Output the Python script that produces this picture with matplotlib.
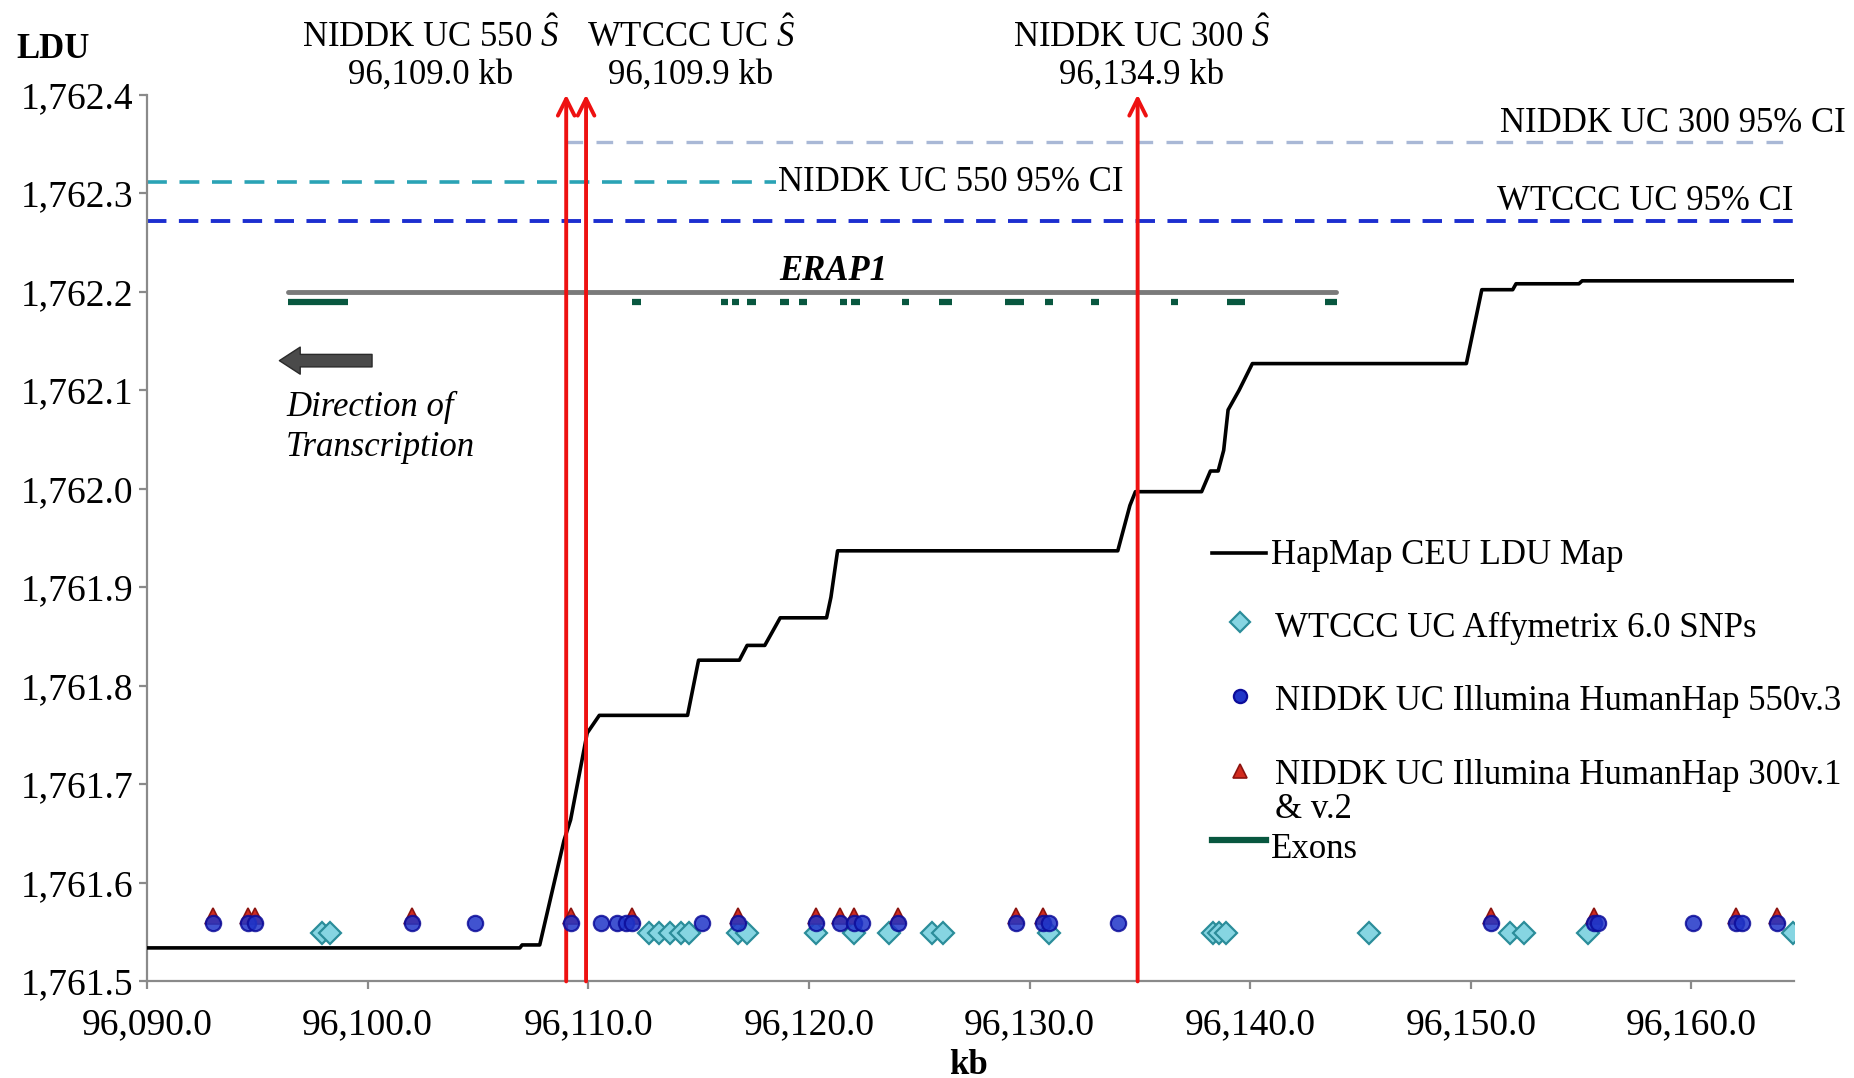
import matplotlib
matplotlib.use('Agg')
import matplotlib.pyplot as plt
from matplotlib.lines import Line2D
from matplotlib.ticker import FuncFormatter, MultipleLocator

plt.rcParams['font.family'] = ['Liberation Serif', 'DejaVu Serif']
plt.rcParams['mathtext.fontset'] = 'custom'
plt.rcParams['mathtext.rm'] = 'Liberation Serif'
plt.rcParams['mathtext.it'] = 'Liberation Serif:italic'
plt.rcParams['mathtext.bf'] = 'Liberation Serif:bold'

# HapMap CEU LDU map vertices (kb, LDU)
ldu_kb = [96090.0, 96106.9, 96107.0, 96107.8, 96108.9, 96109.2, 96109.95,
          96110.5, 96114.5, 96115.0, 96116.85, 96117.2, 96118.0, 96118.7,
          96120.8, 96121.0, 96121.3, 96134.0, 96134.55, 96134.8, 96137.8,
          96138.2, 96138.55, 96138.8, 96139.0, 96139.5, 96140.1, 96149.8,
          96150.5, 96151.9, 96152.05, 96154.9, 96155.05, 96164.6]
ldu_val = [1761.534, 1761.534, 1761.537, 1761.537, 1761.643, 1761.664, 1761.752,
           1761.770, 1761.770, 1761.826, 1761.826, 1761.841, 1761.841, 1761.869,
           1761.869, 1761.890, 1761.937, 1761.937, 1761.983, 1761.997, 1761.997,
           1762.018, 1762.018, 1762.039, 1762.080, 1762.100, 1762.127, 1762.127,
           1762.202, 1762.202, 1762.208, 1762.208, 1762.211, 1762.211]

# SNP positions (kb) per genotyping platform
wtccc_kb = [96097.95, 96098.3, 96112.75, 96113.2, 96113.7, 96114.2, 96114.55,
            96116.8, 96117.2, 96120.3, 96122.05, 96123.65, 96125.6, 96126.1,
            96130.9, 96138.3, 96138.6, 96138.9, 96145.4, 96151.8, 96152.4,
            96155.3, 96164.6]
niddk550_kb = [96093.0, 96094.6, 96094.9, 96102.0, 96104.85, 96109.2, 96110.6,
               96111.3, 96111.7, 96112.0, 96115.15, 96116.8, 96120.3, 96121.4,
               96122.05, 96122.4, 96124.05, 96129.4, 96130.6, 96130.9, 96134.0,
               96150.9, 96155.6, 96155.75, 96160.05, 96162.0, 96162.3, 96163.9]
niddk300_kb = [96093.0, 96094.6, 96094.9, 96102.0, 96109.2, 96112.0, 96116.8,
               96120.3, 96121.4, 96122.05, 96124.05, 96129.4, 96130.6, 96150.9,
               96155.6, 96162.0, 96163.9]
wtccc_y = 1761.549
niddk550_y = 1761.559
niddk300_y = 1761.566

# ERAP1 gene span and exons (kb)
gene_start, gene_end = 96096.4, 96143.9
gene_y = 1762.2
exon_start = [96096.4, 96112.0, 96116.0, 96116.5, 96117.2, 96118.7, 96119.55,
              96121.4, 96121.9, 96124.2, 96125.9, 96128.9, 96130.7, 96132.8,
              96136.4, 96138.95, 96143.4]
exon_end = [96099.1, 96112.4, 96116.35, 96116.85, 96117.6, 96119.1, 96119.9,
            96121.75, 96122.3, 96124.55, 96126.5, 96129.75, 96131.05, 96133.15,
            96136.75, 96139.75, 96143.95]
exon_y = 1762.19

# Point estimates of the susceptibility locus (kb)
shat_kb = [96109.0, 96109.9, 96134.9]
shat_names = ['NIDDK UC 550', 'WTCCC UC', 'NIDDK UC 300']

# 95% CI reference lines: (LDU, kb start, kb end)
ci300 = (1762.352, 96109.0, 96164.6)
ci550 = (1762.311, 96090.0, 96118.5)
ciwtccc = (1762.272, 96090.0, 96164.6)

x_min, x_max = 96090.0, 96164.65
y_min, y_max = 1761.5, 1762.4

W, H = 1854, 1078
fig = plt.figure(figsize=(W / 100, H / 100), dpi=100)
ax = fig.add_axes([147 / W, 1 - 981.4 / H, (1794 - 147) / W, (981.4 - 94.6) / H])
ax.set_xlim(x_min, x_max)
ax.set_ylim(y_min, y_max)

FS = 25
axis_grey = '#8a8a8a'
for side in ('top', 'right'):
    ax.spines[side].set_visible(False)
for side in ('left', 'bottom'):
    ax.spines[side].set_color(axis_grey)
    ax.spines[side].set_linewidth(1.6)
ax.xaxis.set_major_locator(MultipleLocator(10))
ax.yaxis.set_major_locator(MultipleLocator(0.1))
fmt = FuncFormatter(lambda v, p: f'{v:,.1f}')
ax.xaxis.set_major_formatter(fmt)
ax.yaxis.set_major_formatter(fmt)
ax.tick_params(axis='both', direction='out', length=6, width=1.6,
               color=axis_grey, labelsize=27)
ax.tick_params(axis='x', pad=13)
ax.tick_params(axis='y', pad=4)

# CI lines
ax.plot([ci300[1], ci300[2]], [ci300[0]] * 2, color='#a9b8d6', lw=2.4,
        dashes=(5, 4), zorder=2)
ax.plot([ci550[1], ci550[2]], [ci550[0]] * 2, color='#2aa3b5', lw=2.6,
        dashes=(5.5, 3.5), zorder=2)
ax.plot([ciwtccc[1], ciwtccc[2]], [ciwtccc[0]] * 2, color='#1c2ed0', lw=2.8,
        dashes=(5, 3.2), zorder=2)
ax.text(96167.0, 1762.371, 'NIDDK UC 300 95% CI', fontsize=FS,
        ha='right', va='center', clip_on=False)
ax.text(ci550[2] + 0.1, ci550[0], 'NIDDK UC 550 95% CI', fontsize=FS,
        ha='left', va='center')
ax.text(96164.6, 1762.292, 'WTCCC UC 95% CI', fontsize=FS,
        ha='right', va='center')

# gene model
ax.plot([gene_start, gene_end], [gene_y, gene_y], color='#7a7a7a', lw=3.5,
        solid_capstyle='round', zorder=3)
for s, e in zip(exon_start, exon_end):
    ax.plot([s, e], [exon_y, exon_y], color='#08573f', lw=4.5,
            solid_capstyle='butt', zorder=3)
ax.text(96121.1, gene_y + 0.004, 'ERAP1', fontsize=FS, fontweight='bold',
        fontstyle='italic', ha='center', va='bottom')

# direction of transcription
ax.annotate('', xy=(96096.0, 1762.13), xytext=(96100.2, 1762.13),
            arrowprops=dict(arrowstyle='simple,head_length=0.5,head_width=0.65,tail_width=0.3',
                            fc='#4a4a4a', ec='#2a2a2a', lw=1, mutation_scale=30,
                            shrinkA=0, shrinkB=0))
ax.text(96096.3, 1762.062, 'Direction of\nTranscription', fontsize=FS,
        fontstyle='italic', ha='left', va='center', linespacing=1.3)

# LDU map
ax.plot(ldu_kb, ldu_val, color='black', lw=2.6, zorder=4)

# point estimates
for x in shat_kb:
    ax.annotate('', xy=(x, y_max), xytext=(x, y_min),
                arrowprops=dict(arrowstyle='->,head_length=0.6,head_width=0.3',
                                color='#ee1111', lw=2.8, mutation_scale=20,
                                shrinkA=0, shrinkB=0), zorder=5)
label_x = [96102.85, 96114.65, 96135.1]
for x, name, pos in zip(label_x, shat_names, shat_kb):
    ax.text(x, 1762.441, f'{name} $\\hat{{S}}$\n{pos:,.1f} kb', fontsize=FS,
            ha='center', va='center', linespacing=1.15, clip_on=False)

# SNP markers
ax.plot(wtccc_kb, [wtccc_y] * len(wtccc_kb), 'D', ms=11.5, mfc='#86d5e2',
        mec='#2b8d9a', mew=1.6, ls='none', zorder=6)
ax.plot(niddk300_kb, [niddk300_y] * len(niddk300_kb), '^', ms=12,
        mfc='#d22b1e', mec='#8c1410', mew=1.2, ls='none', zorder=6)
ax.plot(niddk550_kb, [niddk550_y] * len(niddk550_kb), 'o', ms=11,
        mfc='#2035c8', mec='#0c0c9a', mew=1.6, alpha=0.85, ls='none', zorder=7)

# axis titles
fig.text(53 / W, 1 - 50 / H, 'LDU', fontsize=FS, fontweight='bold',
         ha='center', va='center')
fig.text(969 / W, 1 - 1065 / H, 'kb', fontsize=FS, fontweight='bold',
         ha='center', va='center')

# legend
def fx(px):
    return px / W


def fy(py):
    return 1 - py / H


fig.add_artist(Line2D([fx(1212), fx(1266)], [fy(553), fy(553)], color='black', lw=2.6))
fig.text(fx(1271), fy(555), 'HapMap CEU LDU Map', fontsize=FS, va='center')
fig.add_artist(Line2D([fx(1240)], [fy(622)], marker='D', ms=10.5, mfc='#86d5e2',
                      mec='#2b8d9a', mew=1.6, ls='none'))
fig.text(fx(1275), fy(628), 'WTCCC UC Affymetrix 6.0 SNPs', fontsize=FS, va='center')
fig.add_artist(Line2D([fx(1240)], [fy(696)], marker='o', ms=9.5, mfc='#2035c8',
                      mec='#0c0c9a', mew=1.6, ls='none'))
fig.text(fx(1275), fy(701), 'NIDDK UC Illumina HumanHap 550v.3', fontsize=FS, va='center')
fig.add_artist(Line2D([fx(1240)], [fy(771)], marker='^', ms=10.5, mfc='#d22b1e',
                      mec='#8c1410', mew=1.2, ls='none'))
fig.text(fx(1275), fy(776), 'NIDDK UC Illumina HumanHap 300v.1', fontsize=FS, va='center')
fig.text(fx(1275), fy(809), '& v.2', fontsize=FS, va='center')
fig.add_artist(Line2D([fx(1212), fx(1266)], [fy(840), fy(840)], color='#08573f', lw=4.5))
fig.text(fx(1271), fy(849), 'Exons', fontsize=FS, va='center')

fig.savefig('out.png', dpi=100, facecolor='white')
